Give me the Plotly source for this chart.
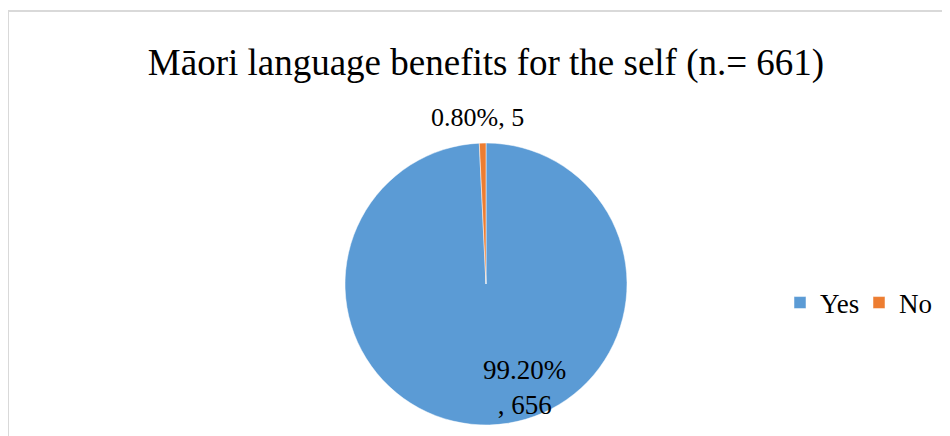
import plotly.graph_objects as go

labels = ["Yes", "No"]
counts = [656, 5]
percents = [99.20, 0.80]
colors = ["#5B9BD5", "#ED7D31"]

W, H = 950, 436
font = "Liberation Serif, Times New Roman, serif"

fig = go.Figure(go.Pie(
    labels=labels,
    values=counts,
    marker=dict(colors=colors, line=dict(color="white", width=0.5)),
    sort=False,
    direction="clockwise",
    rotation=0,
    textinfo="none",
    hoverinfo="label+value+percent",
    domain=dict(x=[337 / W, 619 / W], y=[1 - 417 / H, 1 - 135 / H]),
))

# data labels, Excel-style
fig.add_annotation(text=f"{percents[1]:.2f}%, {counts[1]}", x=469 / W, y=1 - 109 / H,
                   xref="paper", yref="paper", xanchor="center", yanchor="middle",
                   showarrow=False, font=dict(family=font, size=26, color="black"))
fig.add_annotation(text=f"{percents[0]:.2f}%<br>, {counts[0]}", x=516 / W, y=1 - 379 / H,
                   xref="paper", yref="paper", xanchor="center", yanchor="middle",
                   showarrow=False, font=dict(family=font, size=27, color="black"))

# chart border
fig.add_shape(type="rect", xref="paper", yref="paper",
              x0=0, x1=1.05, y0=-0.05, y1=1 - 3 / H,
              line=dict(color="#D9D9D9", width=2))

fig.update_layout(
    width=W, height=H,
    margin=dict(l=0, r=0, t=0, b=0, autoexpand=False),
    paper_bgcolor="white",
    title=dict(text="Māori language benefits for the self (n.= 661)",
               x=478 / W, xanchor="center", y=1 - 54 / H, yanchor="middle",
               font=dict(family=font, size=37, color="black")),
    legend=dict(orientation="h", x=772 / W, y=1 - 295 / H, yanchor="middle", xanchor="left",
                font=dict(family=font, size=27, color="black"),
                itemwidth=30, entrywidth=34, tracegroupgap=0),
    showlegend=True,
)

fig.write_html("out.html")
